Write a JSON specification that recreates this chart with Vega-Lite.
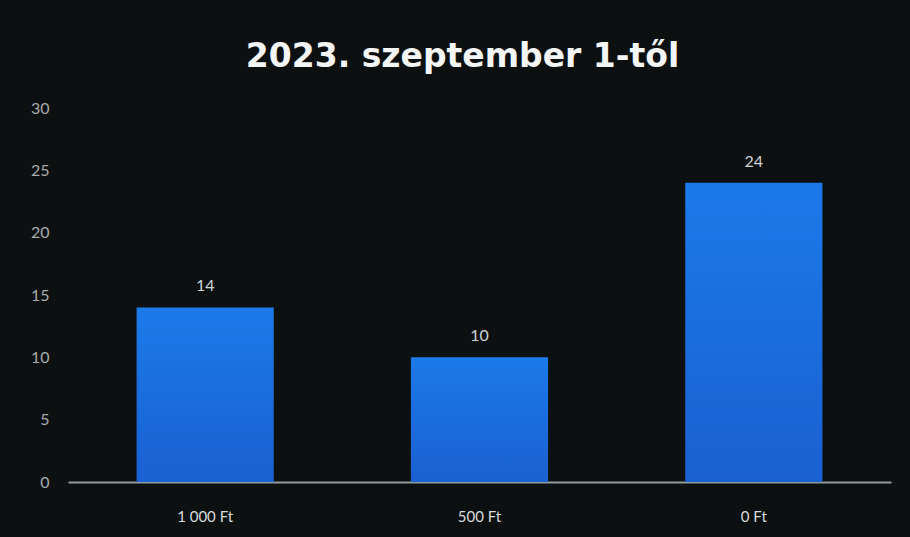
{
  "$schema": "https://vega.github.io/schema/vega-lite/v6.json",
  "autosize": {"type": "none"},
  "width": 823,
  "height": 374,
  "padding": {"left": 68, "top": 108, "right": 19, "bottom": 55},
  "background": "#0c1011",
  "config": {
    "view": {"stroke": null},
    "font": "Lato"
  },
  "title": {
    "text": "2023. szeptember 1-től",
    "font": "DejaVu Sans",
    "fontSize": 33,
    "fontWeight": "bold",
    "color": "#f4f6f6",
    "anchor": "middle",
    "dx": -17,
    "offset": 26
  },
  "data": {
    "values": [
      {"kategoria": "1 000 Ft", "ertek": 14},
      {"kategoria": "500 Ft", "ertek": 10},
      {"kategoria": "0 Ft", "ertek": 24}
    ]
  },
  "encoding": {
    "x": {
      "field": "kategoria",
      "type": "nominal",
      "sort": null,
      "scale": {"paddingInner": 0.5, "paddingOuter": 0.25},
      "axis": {
        "title": null,
        "labelAngle": 0,
        "labelColor": "#d8dcdc",
        "labelFontSize": 15,
        "labelPadding": 27,
        "ticks": false,
        "domainColor": "#8e9c9a",
        "domainWidth": 2
      }
    },
    "y": {
      "field": "ertek",
      "type": "quantitative",
      "scale": {"domain": [0, 30]},
      "axis": {
        "title": null,
        "values": [0, 5, 10, 15, 20, 25, 30],
        "grid": false,
        "domain": false,
        "ticks": false,
        "labelColor": "#a8acac",
        "labelFontSize": 16,
        "labelPadding": 19
      }
    }
  },
  "layer": [
    {
      "mark": {
        "type": "bar",
        "color": {
          "gradient": "linear",
          "x1": 0, "y1": 0, "x2": 0, "y2": 1,
          "stops": [
            {"offset": 0, "color": "#1c7ae8"},
            {"offset": 1, "color": "#1a60d2"}
          ]
        }
      }
    },
    {
      "mark": {"type": "text", "dy": -21, "color": "#d0d4d4", "fontSize": 16},
      "encoding": {"text": {"field": "ertek", "type": "quantitative"}}
    }
  ]
}
